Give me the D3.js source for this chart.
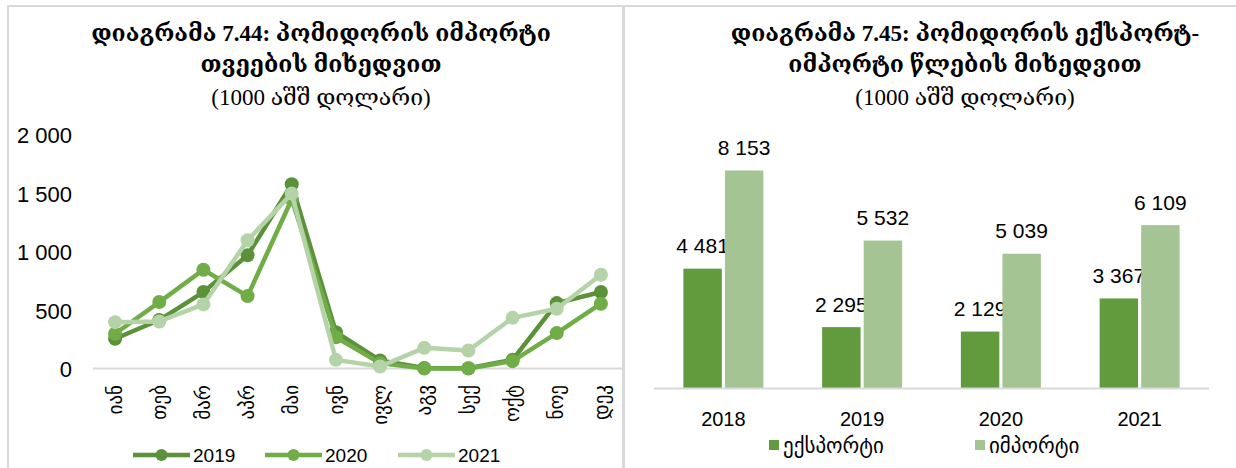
<!DOCTYPE html>
<html>
<head>
<meta charset="utf-8">
<script src="https://cdn.jsdelivr.net/npm/d3@7"></script>
<style>
  body { margin: 0; background: #fff; }
  svg { display: block; }
</style>
</head>
<body>
<svg id="chart" width="1236" height="468"></svg>
<script>
// Monthly tomato imports (thousand USD)
const months = ["იან", "თებ", "მარ", "აპრ", "მაი", "ივნ", "ივლ", "აგვ", "სექ", "ოქტ", "ნოე", "დეკ"];
const imports2019 = [255, 415, 655, 970, 1578, 311, 69, 4, 2, 74, 560, 655];
const imports2020 = [298, 569, 846, 620, 1450, 268, 46, 0, 0, 63, 303, 555];
const imports2021 = [397, 403, 549, 1098, 1498, 74, 17, 177, 154, 434, 512, 803];
const monthSeriesNames = ["2019", "2020", "2021"];
const monthTicks = [0, 500, 1000, 1500, 2000];

// Yearly tomato export / import (thousand USD)
const years = ["2018", "2019", "2020", "2021"];
const exportsByYear = [4481, 2295, 2129, 3367];
const importsByYear = [8153, 5532, 5039, 6109];
const tradeSeriesNames = ["ექსპორტი", "იმპორტი"];

const lineColors = ["#5b9139", "#70ad47", "#b5d3a8"];
const barColors = ["#629b3d", "#a4c593"];

const locale = d3.formatLocale({ decimal: ".", thousands: " ", grouping: [3], currency: ["", ""] });
const fmt = locale.format(",d");

const svg = d3.select("#chart");
const SANS = "'Liberation Sans', Arial, sans-serif";
const GEO = "'DejaVu Sans', sans-serif";
const TITLE = "'Liberation Serif', 'DejaVu Serif', serif";

// Panel frames
svg.append("rect").attr("x", 8).attr("y", 6).attr("width", 615).attr("height", 470)
  .attr("fill", "none").attr("stroke", "#d9d9d9").attr("stroke-width", 2);
svg.append("rect").attr("x", 624).attr("y", 6).attr("width", 620).attr("height", 470)
  .attr("fill", "none").attr("stroke", "#d9d9d9").attr("stroke-width", 2);

function title(cx, lines) {
  lines.forEach(l => {
    svg.append("text").attr("x", cx).attr("y", l.y)
      .attr("text-anchor", "middle")
      .attr("font-family", TITLE)
      .attr("font-weight", l.bold ? "bold" : "normal")
      .attr("font-size", l.size)
      .attr("fill", "#000")
      .text(l.t);
  });
}

// ---------- Left: monthly line chart ----------
title(321, [
  { t: "დიაგრამა 7.44: პომიდორის იმპორტი", y: 41, size: 23, bold: true },
  { t: "თვეების მიხედვით", y: 72, size: 23, bold: true },
  { t: "(1000 აშშ დოლარი)", y: 105, size: 23, bold: false }
]);

const xL = d3.scaleBand().domain(months).range([93, 623]);
const yL = d3.scaleLinear().domain([0, 2000]).range([368.5, 135]);

// baseline
svg.append("line").attr("x1", 93).attr("x2", 623)
  .attr("y1", yL(0)).attr("y2", yL(0))
  .attr("stroke", "#d9d9d9").attr("stroke-width", 2);

// y tick labels
const yAxisL = d3.axisLeft(yL).tickValues(monthTicks).tickFormat(fmt).tickSize(0).tickPadding(0);
const gy = svg.append("g").attr("transform", "translate(72,0)").call(yAxisL);
gy.select(".domain").remove();
gy.selectAll("text").attr("font-family", SANS).attr("font-size", 22).attr("fill", "#000").attr("dy", "0.36em");

// month labels (rotated)
const xAxisL = d3.axisBottom(xL).tickSize(0).tickPadding(0);
const gx = svg.append("g").attr("transform", "translate(0,385)").call(xAxisL);
gx.select(".domain").remove();
gx.selectAll("text")
  .attr("font-family", GEO).attr("font-size", 19).attr("fill", "#000")
  .attr("text-anchor", "end")
  .attr("transform", "rotate(-90)")
  .attr("x", 0).attr("y", 0).attr("dy", "0.35em");

const seriesL = [imports2019, imports2020, imports2021];
const cx = m => xL(m) + xL.bandwidth() / 2;
const line = d3.line().x((d, i) => cx(months[i])).y(d => yL(d));

seriesL.forEach((vals, s) => {
  svg.append("path").datum(vals)
    .attr("d", line).attr("fill", "none")
    .attr("stroke", lineColors[s]).attr("stroke-width", 4.5)
    .attr("stroke-linejoin", "round");
  svg.append("g").selectAll("circle").data(vals).join("circle")
    .attr("cx", (d, i) => cx(months[i])).attr("cy", d => yL(d))
    .attr("r", 7).attr("fill", lineColors[s]);
});

// legend
const legL = [133, 265, 398];
monthSeriesNames.forEach((n, i) => {
  const g = svg.append("g").attr("transform", `translate(${legL[i]},455)`);
  g.append("line").attr("x1", 0).attr("x2", 57).attr("y1", 0).attr("y2", 0)
    .attr("stroke", lineColors[i]).attr("stroke-width", 4.5);
  g.append("circle").attr("cx", 28.5).attr("cy", 0).attr("r", 6).attr("fill", lineColors[i]);
  g.append("text").attr("x", 60).attr("y", 0).attr("dy", "0.36em")
    .attr("font-family", SANS).attr("font-size", 19).attr("fill", "#000").text(n);
});

// ---------- Right: yearly grouped bars ----------
title(965, [
  { t: "დიაგრამა 7.45: პომიდორის ექსპორტ-", y: 41, size: 23, bold: true },
  { t: "იმპორტი წლების მიხედვით", y: 72, size: 23, bold: true },
  { t: "(1000 აშშ დოლარი)", y: 105, size: 23, bold: false }
]);

const xR = d3.scaleBand().domain(years).range([654, 1209]);
const xR1 = d3.scaleBand().domain(tradeSeriesNames).range([0, 80]).paddingInner(0.075);
const yR = d3.scaleLinear().domain([0, 10000]).range([388.5, 121.1]);

const seriesR = [exportsByYear, importsByYear];
seriesR.forEach((vals, s) => {
  const g = svg.append("g");
  const bx = (d, i) => xR(years[i]) + xR.bandwidth() / 2 - 40 + xR1(tradeSeriesNames[s]);
  g.selectAll("rect").data(vals).join("rect")
    .attr("x", bx).attr("width", xR1.bandwidth())
    .attr("y", d => yR(d)).attr("height", d => yR(0) - yR(d))
    .attr("fill", barColors[s]);
  g.selectAll("text").data(vals).join("text")
    .attr("x", (d, i) => bx(d, i) + xR1.bandwidth() / 2)
    .attr("y", d => yR(d) - 15.5)
    .attr("text-anchor", "middle")
    .attr("font-family", SANS).attr("font-size", 21).attr("fill", "#000")
    .text(d => fmt(d));
});

svg.append("line").attr("x1", 654).attr("x2", 1209)
  .attr("y1", yR(0)).attr("y2", yR(0))
  .attr("stroke", "#d9d9d9").attr("stroke-width", 2);

const xAxisR = d3.axisBottom(xR).tickSize(0).tickPadding(0);
const gxr = svg.append("g").attr("transform", "translate(0,426)").call(xAxisR);
gxr.select(".domain").remove();
gxr.selectAll("text").attr("font-family", SANS).attr("font-size", 20).attr("fill", "#000").attr("dy", 0);

// legend
const legR = [769, 975];
tradeSeriesNames.forEach((n, i) => {
  const g = svg.append("g").attr("transform", `translate(${legR[i]},440)`);
  g.append("rect").attr("width", 10).attr("height", 10).attr("fill", barColors[i]);
  g.append("text").attr("x", 14).attr("y", 13)
    .attr("font-family", GEO).attr("font-size", 21).attr("fill", "#000").text(n);
});
</script>
</body>
</html>
